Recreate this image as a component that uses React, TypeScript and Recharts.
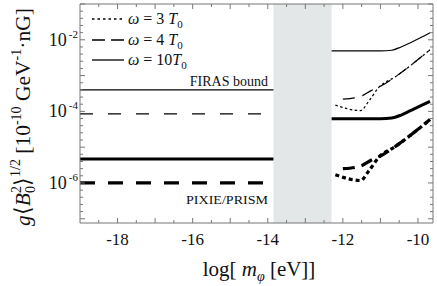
import { LineChart, Line, XAxis, YAxis, ReferenceArea } from "recharts";

const X_DOMAIN = [-19, -9.6];
const Y_DOMAIN = [7.6e-8, 0.1];
const BAND = [-13.85, -12.3];

// x ticks: minor every 0.5, labels on even integers
const X_TICKS = [-18.5, -18, -17.5, -17, -16.5, -16, -15.5, -15, -14.5, -14, -13.5, -13, -12.5, -12, -11.5, -11, -10.5, -10];
const X_LABELS = [-18, -16, -14, -12, -10];
// y ticks every 0.2 decade, labels on these exponents
const Y_TICKS = Array.from({ length: 31 }, (_, i) => Math.pow(10, -7 + 0.2 * i));
const Y_LABELS = [-6, -4, -2];

// left side: constant bounds up to the gray band
const LEFT_X = [-19, -13.85];
const FIRAS_10T_LEFT = [4.0e-4, 4.0e-4];
const FIRAS_4T_LEFT = [8.5e-5, 8.5e-5];
const PIXIE_10T_LEFT = [4.7e-6, 4.7e-6];
const PIXIE_4T_LEFT = [1.0e-6, 1.0e-6];

// right side curves
const SOLID_X = [-12.3, -11.0, -10.7, -10.45, -10.2, -9.95, -9.68];
const FIRAS_10T = [4.9e-3, 4.9e-3, 5.1e-3, 6.3e-3, 8.3e-3, 1.12e-2, 1.58e-2];
const PIXIE_10T = [6.2e-5, 6.2e-5, 6.5e-5, 7.9e-5, 1.05e-4, 1.4e-4, 1.9e-4];

const DASH_X = [-12.0, -11.55, -11.25, -10.9, -10.6, -9.68];
const FIRAS_4T = [2.19e-4, 2.57e-4, 3.8e-4, 5.75e-4, 9.3e-4, 5.25e-3];
const PIXIE_4T = [2.5e-6, 2.9e-6, 4.3e-6, 6.5e-6, 1.05e-5, 5.9e-5];

const DOT_X = [-12.2, -11.53, -11.32, -11.05, -10.6, -9.68];
const FIRAS_3T = [1.5e-4, 1.05e-4, 1.86e-4, 4.6e-4, 9.3e-4, 5.25e-3];
const PIXIE_3T = [1.7e-6, 1.17e-6, 2.1e-6, 5.1e-6, 1.05e-5, 5.9e-5];

const AXIS = "#777";
const FONT = "Liberation Serif, Times New Roman, serif";

const pts = (xs: number[], ys: number[]) => xs.map((x, i) => ({ x, y: ys[i] }));

function XTick(props: any) {
  const { x, y, payload, side } = props;
  const v = payload.value;
  const major = Number.isInteger(v);
  const len = major ? 5 : 3;
  const dir = side === "bottom" ? -1 : 1;
  return (
    <g>
      <line x1={x} x2={x} y1={y} y2={y + dir * len} stroke={AXIS} strokeWidth={1} />
      {side === "bottom" && X_LABELS.includes(v) && (
        <text x={x} y={y + 22} textAnchor="middle" fontFamily={FONT} fontSize={17} fill="#111">
          {String(v)}
        </text>
      )}
    </g>
  );
}

function YTick(props: any) {
  const { x, y, payload, side } = props;
  const e = Math.log10(payload.value);
  const r = Math.round(e);
  const decade = Math.abs(e - r) < 1e-6;
  const len = decade ? 5 : 3;
  const dir = side === "left" ? 1 : -1;
  return (
    <g>
      <line x1={x} x2={x + dir * len} y1={y} y2={y} stroke={AXIS} strokeWidth={1} />
      {side === "left" && decade && Y_LABELS.includes(r) && (
        <text x={x - 2} y={y + 6} textAnchor="end" fontFamily={FONT} fill="#111">
          <tspan fontSize={18}>10</tspan>
          <tspan fontSize={11} dx={2} dy={-8}>{String(r)}</tspan>
        </text>
      )}
    </g>
  );
}

export default function App() {
  const common = {
    xAxisId: "b",
    yAxisId: "l",
    dataKey: "y",
    dot: false,
    activeDot: false,
    isAnimationActive: false,
    stroke: "#000",
  } as const;
  return (
    <div style={{ position: "absolute", left: 0, top: 0, width: 437, height: 286, background: "#fff" }}>
      <LineChart width={437} height={286} margin={{ top: 3, right: 3, bottom: 62, left: 79 }}>
        <ReferenceArea xAxisId="b" yAxisId="l" x1={BAND[0]} x2={BAND[1]} fill="#e4e7e8" fillOpacity={1} stroke="none" />
        <XAxis
          xAxisId="b"
          type="number"
          dataKey="x"
          domain={X_DOMAIN}
          ticks={X_TICKS}
          interval={0}
          allowDataOverflow
          height={1}
          tickSize={0}
          tickMargin={0}
          tickLine={false}
          axisLine={{ stroke: AXIS }}
          tick={(p: any) => <XTick {...p} side="bottom" />}
        />
        <XAxis
          xAxisId="t"
          orientation="top"
          type="number"
          dataKey="x"
          domain={X_DOMAIN}
          ticks={X_TICKS}
          interval={0}
          allowDataOverflow
          height={1}
          tickSize={0}
          tickMargin={0}
          tickLine={false}
          axisLine={{ stroke: AXIS }}
          tick={(p: any) => <XTick {...p} side="top" />}
        />
        <YAxis
          yAxisId="l"
          scale="log"
          type="number"
          domain={Y_DOMAIN}
          ticks={Y_TICKS}
          interval={0}
          allowDataOverflow
          width={1}
          tickSize={0}
          tickMargin={0}
          tickLine={false}
          axisLine={{ stroke: AXIS }}
          tick={(p: any) => <YTick {...p} side="left" />}
        />
        <YAxis
          yAxisId="r"
          orientation="right"
          scale="log"
          type="number"
          domain={Y_DOMAIN}
          ticks={Y_TICKS}
          interval={0}
          allowDataOverflow
          width={1}
          tickSize={0}
          tickMargin={0}
          tickLine={false}
          axisLine={{ stroke: AXIS }}
          tick={(p: any) => <YTick {...p} side="right" />}
        />

        <Line {...common} data={pts(LEFT_X, FIRAS_10T_LEFT)} type="linear" strokeWidth={1.2} />
        <Line {...common} data={pts(LEFT_X, FIRAS_4T_LEFT)} type="linear" strokeWidth={1.2} strokeDasharray="13 15" />
        <Line {...common} data={pts(LEFT_X, PIXIE_10T_LEFT)} type="linear" strokeWidth={3} />
        <Line {...common} data={pts(LEFT_X, PIXIE_4T_LEFT)} type="linear" strokeWidth={3.2} strokeDasharray="15 13" />

        <Line {...common} data={pts(SOLID_X, FIRAS_10T)} type="monotone" strokeWidth={1.2} />
        <Line {...common} data={pts(DASH_X, FIRAS_4T)} type="monotone" strokeWidth={1.2} strokeDasharray="12 8" />
        <Line {...common} data={pts(DOT_X, FIRAS_3T)} type="monotone" strokeWidth={1.2} strokeDasharray="2.5 2.5" />
        <Line {...common} data={pts(SOLID_X, PIXIE_10T)} type="monotone" strokeWidth={3} />
        <Line {...common} data={pts(DASH_X, PIXIE_4T)} type="monotone" strokeWidth={3.2} strokeDasharray="12 7" />
        <Line {...common} data={pts(DOT_X, PIXIE_3T)} type="monotone" strokeWidth={3.2} strokeDasharray="4 3" />
      </LineChart>

      <svg width={437} height={286} style={{ position: "absolute", left: 0, top: 0, pointerEvents: "none" }}>
        {/* legend */}
        <line x1={92} x2={123} y1={19} y2={19} stroke="#000" strokeWidth={1.3} strokeDasharray="2.5 3" />
        <line x1={92} x2={124} y1={40} y2={40} stroke="#000" strokeWidth={1.3} strokeDasharray="13 6" />
        <line x1={92} x2={124} y1={60} y2={60} stroke="#000" strokeWidth={1.3} />
        {["3 ", "4 ", "10"].map((n, i) => (
          <text key={n} x={128} y={24 + i * 20.5} fontFamily={FONT} fontSize={16} fill="#111">
            <tspan fontStyle="italic">ω</tspan>
            <tspan> = {n}</tspan>
            <tspan fontStyle="italic">T</tspan>
            <tspan fontSize={11} dy={4}>0</tspan>
          </text>
        ))}

        <text x={268} y={86} textAnchor="end" fontFamily={FONT} fontSize={14} fill="#111">FIRAS bound</text>
        <text x={186} y={204} fontFamily={FONT} fontSize={12.5} textLength={82} lengthAdjust="spacingAndGlyphs" fill="#111">PIXIE/PRISM</text>

        {/* x label */}
        <text x={259} y={276} textAnchor="middle" fontFamily={FONT} fontSize={21} fill="#111">
          <tspan>log[ </tspan>
          <tspan fontStyle="italic">m</tspan>
          <tspan fontSize={14} fontStyle="italic" dy={5}>φ</tspan>
          <tspan dy={-5}> [eV]]</tspan>
        </text>

        {/* y label */}
        <text
          x={30}
          y={117}
          textAnchor="middle"
          transform="rotate(-90 30 117)"
          fontFamily={FONT}
          fontSize={21.5}
          fill="#111"
        >
          <tspan fontStyle="italic">g</tspan>
          <tspan>⟨</tspan>
          <tspan fontStyle="italic">B</tspan>
          <tspan fontSize={14} dy={-9}>2</tspan>
          <tspan fontSize={14} dx={-7} dy={14}>0</tspan>
          <tspan dy={-5}>⟩</tspan>
          <tspan fontSize={14} dy={-10}>1/2</tspan>
          <tspan dy={10}> [10</tspan>
          <tspan fontSize={14} dy={-9}>-10</tspan>
          <tspan dy={9}> GeV</tspan>
          <tspan fontSize={14} dy={-9}>-1</tspan>
          <tspan dy={9}>·nG]</tspan>
        </text>
      </svg>
    </div>
  );
}
